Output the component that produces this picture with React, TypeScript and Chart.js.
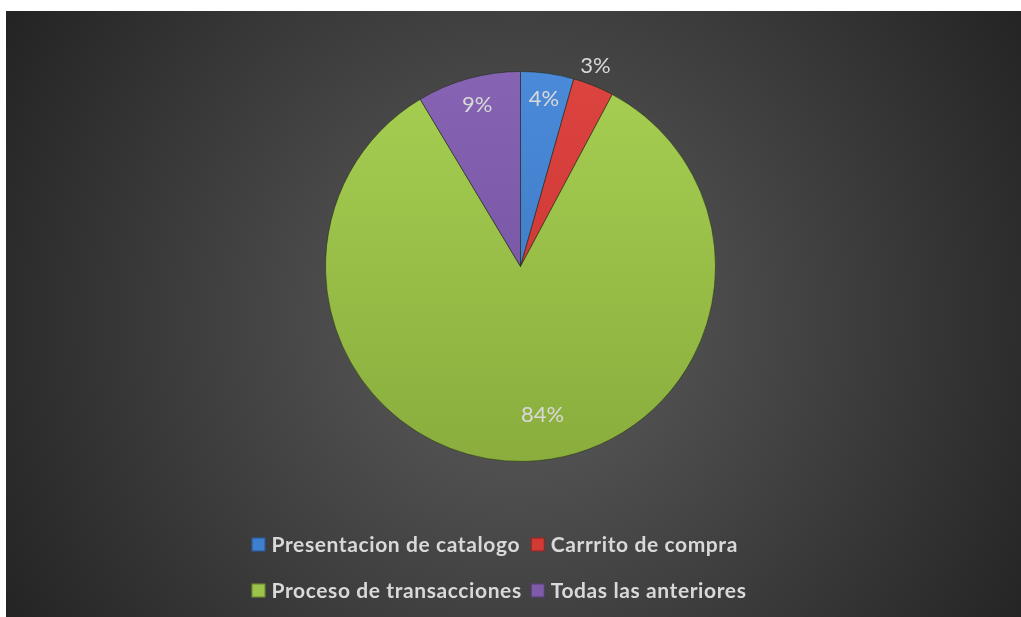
import React, { useEffect, useRef } from "react";
import { Chart, registerables } from "chart.js";

Chart.register(...registerables);

const categories = [
  "Presentacion de catalogo",
  "Carrrito de compra",
  "Proceso de transacciones",
  "Todas las anteriores",
];
const values = [4.4, 3.4, 83.6, 8.6];

const sliceTop = ["#4a8ad8", "#dc4440", "#a6cf52", "#8663b3"];
const sliceBottom = ["#3a74bf", "#c5302d", "#8aad3d", "#6f4f9c"];
const legendColors = ["#3f7fcf", "#d23a36", "#9cc44a", "#7e5caa"];
const labelRadius = [0.87, 1.1, 0.77, 0.86];
const labelAngleShiftDeg = [0, -1.5, -7, 0.5];

const TEXT = "#d9d9d9";

const bgPlugin = {
  id: "bgGradient",
  beforeDraw(chart: any) {
    const { ctx, width, height } = chart;
    const cx = width * 0.505;
    const cy = height * 0.51;
    const R = Math.hypot(width / 2, height / 2);
    const g = ctx.createRadialGradient(cx, cy, 0, cx, cy, R);
    g.addColorStop(0, "#5e5e5e");
    g.addColorStop(1, "#242424");
    ctx.save();
    ctx.fillStyle = g;
    ctx.fillRect(0, 0, width, height);
    ctx.restore();
  },
};

const labelPlugin = {
  id: "pctLabels",
  afterDatasetsDraw(chart: any) {
    const { ctx } = chart;
    const meta = chart.getDatasetMeta(0);
    const data = chart.data.datasets[0].data as number[];
    const total = data.reduce((a, b) => a + b, 0);
    ctx.save();
    ctx.font = "400 22px Lato";
    ctx.fillStyle = TEXT;
    ctx.textAlign = "center";
    ctx.textBaseline = "middle";
    meta.data.forEach((arc: any, i: number) => {
      const p = arc.getProps(["x", "y", "startAngle", "endAngle", "outerRadius"], true);
      const mid = (p.startAngle + p.endAngle) / 2 + (labelAngleShiftDeg[i] * Math.PI) / 180;
      const r = p.outerRadius * labelRadius[i];
      const txt = Math.round((data[i] / total) * 100) + "%";
      ctx.fillText(txt, p.x + Math.cos(mid) * r, p.y + Math.sin(mid) * r);
    });
    ctx.restore();
  },
};

const legendPlugin = {
  id: "gridLegend",
  afterDraw(chart: any) {
    const { ctx } = chart;
    const labels = chart.data.labels as string[];
    ctx.save();
    ctx.font = "700 21px Lato";
    (ctx as any).letterSpacing = "0.6px";
    const box = 14;
    const gap = 6;
    const colGap = 9;
    const rows = [533.5, 579.5];
    const w = labels.map((l) => ctx.measureText(l).width);
    const col1 = box + gap + Math.max(w[0], w[2]);
    const col2 = box + gap + Math.max(w[1], w[3]);
    const total = col1 + colGap + col2;
    const startX = 493 - total / 2;
    labels.forEach((l, i) => {
      const col = i % 2;
      const row = Math.floor(i / 2);
      const x = col === 0 ? startX : startX + col1 + colGap;
      const y = rows[row];
      ctx.fillStyle = legendColors[i];
      ctx.fillRect(x, y - box / 2, box, box);
      ctx.strokeStyle = "rgba(0,0,0,0.35)";
      ctx.lineWidth = 1;
      ctx.strokeRect(x + 0.5, y - box / 2 + 0.5, box - 1, box - 1);
      ctx.fillStyle = TEXT;
      ctx.textAlign = "left";
      ctx.textBaseline = "middle";
      ctx.fillText(l, x + box + gap, y + 1);
    });
    ctx.restore();
  },
};

export default function App() {
  const ref = useRef<HTMLCanvasElement>(null);

  useEffect(() => {
    if (!ref.current) return;
    const chart = new Chart(ref.current, {
      type: "pie",
      data: {
        labels: categories,
        datasets: [
          {
            data: values,
            backgroundColor: (c: any) => {
              const i = c.dataIndex;
              const area = c.chart.chartArea;
              if (!area) return sliceTop[i];
              const g = c.chart.ctx.createLinearGradient(0, area.top, 0, area.bottom);
              g.addColorStop(0, sliceTop[i]);
              g.addColorStop(1, sliceBottom[i]);
              return g;
            },
            borderColor: "rgba(30,40,20,0.55)",
            borderWidth: 1,
          },
        ],
      },
      options: {
        responsive: false,
        animation: false,
        layout: { padding: { top: 60, bottom: 155, left: 14, right: 0 } },
        plugins: {
          legend: { display: false },
          tooltip: { enabled: false },
        },
      },
      plugins: [bgPlugin, labelPlugin, legendPlugin],
    });
    return () => chart.destroy();
  }, []);

  return (
    <div style={{ position: "absolute", left: 6, top: 11, width: 1015, height: 606 }}>
      <canvas ref={ref} width={1015} height={606} />
    </div>
  );
}
